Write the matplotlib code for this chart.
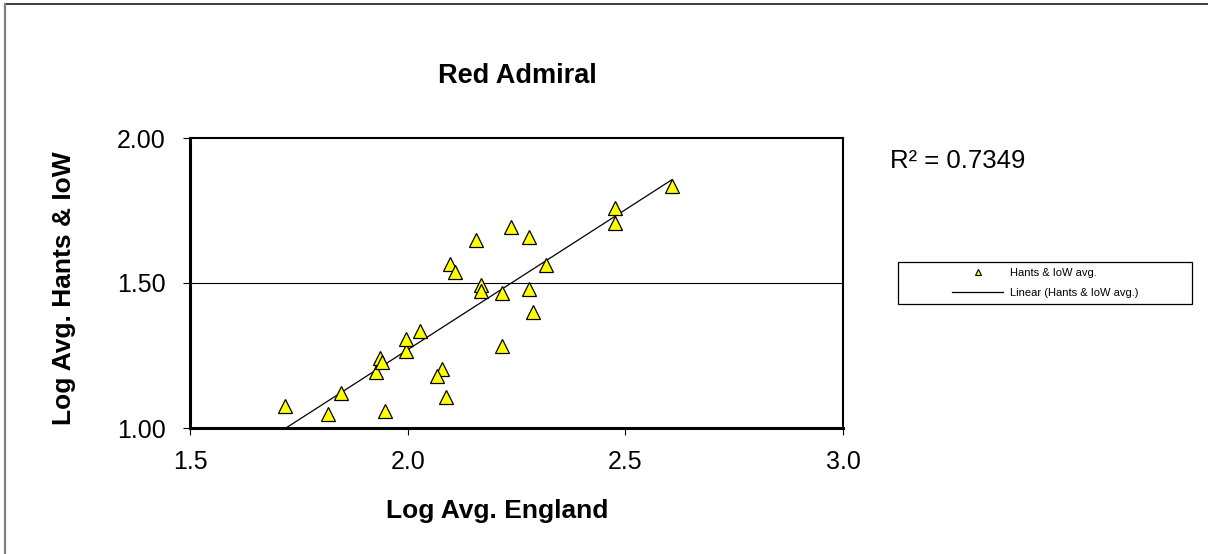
import numpy as np
import matplotlib
matplotlib.use("Agg")
import matplotlib.pyplot as plt
from matplotlib.lines import Line2D
from matplotlib.patches import Rectangle

plt.rcParams['font.family'] = ['Liberation Sans', 'DejaVu Sans']

# ---- data ----
log_england = [1.718, 1.817, 1.848, 1.947, 1.928, 1.936, 1.940, 1.997, 1.997, 2.028,
               2.078, 2.067, 2.087, 2.097, 2.108, 2.158, 2.168, 2.168, 2.217, 2.217,
               2.238, 2.278, 2.278, 2.287, 2.318, 2.477, 2.477, 2.607]
log_hants = [1.075, 1.050, 1.121, 1.058, 1.194, 1.241, 1.227, 1.265, 1.307, 1.335,
             1.202, 1.179, 1.107, 1.566, 1.538, 1.650, 1.493, 1.471, 1.465, 1.283,
             1.693, 1.657, 1.479, 1.401, 1.561, 1.759, 1.707, 1.836]
x_ticks = [1.5, 2.0, 2.5, 3.0]
x_tick_labels = ['1.5', '2.0', '2.5', '3.0']
y_ticks = [1.0, 1.5, 2.0]
y_tick_labels = ['1.00', '1.50', '2.00']
title = 'Red Admiral'
x_label = 'Log Avg. England'
y_label = 'Log Avg. Hants & IoW'
series_name = 'Hants & IoW avg.'
trend_name = 'Linear (Hants & IoW avg.)'
r2_text = 'R² = 0.7349'

W, H = 1208, 554
fig = plt.figure(figsize=(W / 100, H / 100), dpi=100)
fig.patch.set_facecolor('white')

def fx(px):
    return px / W

def fy(py):
    return 1 - py / H

ax = fig.add_axes([fx(190), fy(428), fx(843) - fx(190), fy(138) - fy(428)])

x = np.array(log_england)
y = np.array(log_hants)
slope, intercept = np.polyfit(x, y, 1)
xl = np.array([x.min(), x.max()])
ax.plot(xl, slope * xl + intercept, color='black', lw=0.9, zorder=3)

ax.plot(x, y, linestyle='none', marker='^', markersize=10,
        markerfacecolor='#FFFF00', markeredgecolor='black', markeredgewidth=0.9, zorder=4)

ax.set_xlim(1.5, 3.0)
ax.set_ylim(1.0, 2.0)
ax.set_xticks(x_ticks)
ax.set_xticklabels(x_tick_labels)
ax.set_yticks(y_ticks)
ax.set_yticklabels(y_tick_labels)
ax.tick_params(direction='out', length=5, width=0.8, labelsize=18, colors='black')
ax.tick_params(axis='x', pad=11)
ax.tick_params(axis='y', pad=12.5)
ax.axhline(1.5, color='black', lw=0.8, zorder=1)

for side, lw in [('left', 2.2), ('bottom', 2.2), ('top', 1.5), ('right', 1.5)]:
    ax.spines[side].set_linewidth(lw)
    ax.spines[side].set_color('black')

# texts
fig.text(fx(517), fy(83), title, ha='center', va='baseline', fontsize=19.5, fontweight='bold')
fig.text(fx(497), fy(518), x_label, ha='center', va='baseline', fontsize=19, fontweight='bold')
fig.text(fx(64), fy(288), y_label, ha='center', va='center', rotation=90, fontsize=19, fontweight='bold')
fig.text(fx(890), fy(168), r2_text, ha='left', va='baseline', fontsize=18.5)

# legend
fig.patches.append(Rectangle((fx(898), fy(304)), fx(1192) - fx(898), fy(262) - fy(304),
                             transform=fig.transFigure, fill=False, edgecolor='black', lw=0.9))
handles = [Line2D([], [], linestyle='none', marker='^', markersize=4.5,
                  markerfacecolor='#FFFF00', markeredgecolor='black', markeredgewidth=0.8),
           Line2D([], [], color='black', lw=0.9)]
leg = fig.legend(handles, [series_name, trend_name], loc='center left',
                 bbox_to_anchor=(fx(952), fy(283)), frameon=False, fontsize=8,
                 handlelength=4.6, handletextpad=0.6, labelspacing=0.85, borderpad=0,
                 borderaxespad=0)

# outer chart border (top and left visible)
fig.add_artist(Line2D([fx(5), 1], [fy(4), fy(4)], color='#1a1a1a', lw=1.2, transform=fig.transFigure))
fig.add_artist(Line2D([fx(5), fx(5)], [fy(4), 0], color='#808080', lw=1.6, transform=fig.transFigure))

fig.savefig('out.png', dpi=100, facecolor='white')
